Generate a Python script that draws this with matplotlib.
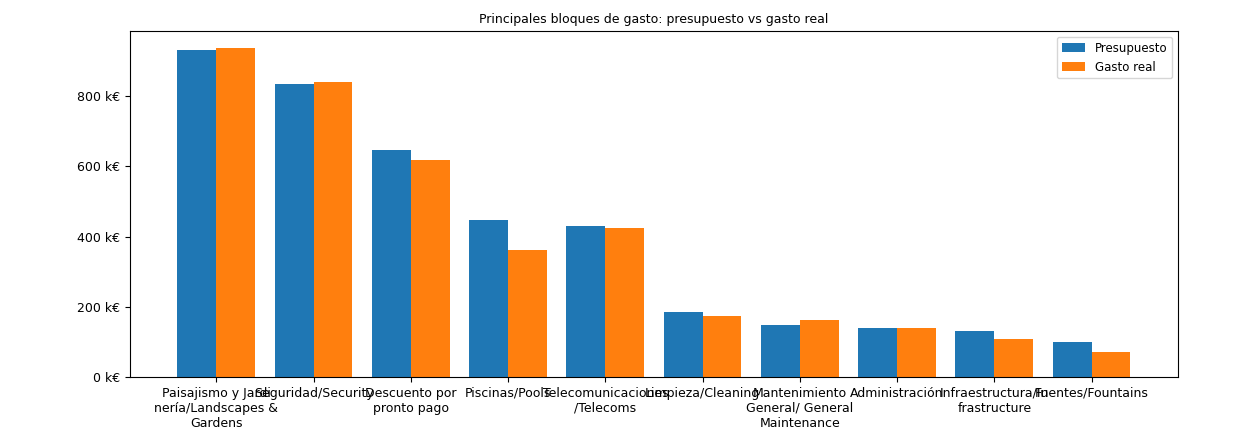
import textwrap
import numpy as np
import matplotlib
matplotlib.use("Agg")
import matplotlib.pyplot as plt
from matplotlib.ticker import FuncFormatter

categories = [
    "Paisajismo y Jardinería/Landscapes & Gardens",
    "Seguridad/Security",
    "Descuento por pronto pago",
    "Piscinas/Pools",
    "Telecomunicaciones/Telecoms",
    "Limpieza/Cleaning",
    "Mantenimiento General/ General Maintenance",
    "Administración",
    "Infraestructura/Infrastructure",
    "Fuentes/Fountains",
]
presupuesto = [933, 836, 648, 447, 429, 184, 147, 139, 131, 99]
gasto_real = [939, 842, 618, 362, 424, 173, 163, 139, 107, 72]

title = "Principales bloques de gasto: presupuesto vs gasto real"
series_labels = ["Presupuesto", "Gasto real"]

fig = plt.figure(figsize=(12.48, 4.44), dpi=100)
ax = fig.add_axes([0.104, 0.151, 0.84, 0.779])

x = np.arange(len(categories))
w = 0.4
ax.bar(x - w / 2, presupuesto, w, label=series_labels[0], color="#1f77b4")
ax.bar(x + w / 2, gasto_real, w, label=series_labels[1], color="#ff7f0e")

ax.set_xticks(x)
ax.set_xticklabels([textwrap.fill(c, 18) for c in categories], fontsize=9)
ax.yaxis.set_major_formatter(FuncFormatter(lambda v, p: f"{v:.0f} k€"))
ax.tick_params(axis="y", labelsize=9)
ax.set_yticks([0, 200, 400, 600, 800])
ax.set_title(title, fontsize=9)
ax.legend(loc="upper right", fontsize=8.5)

fig.savefig("out.png", dpi=100)
